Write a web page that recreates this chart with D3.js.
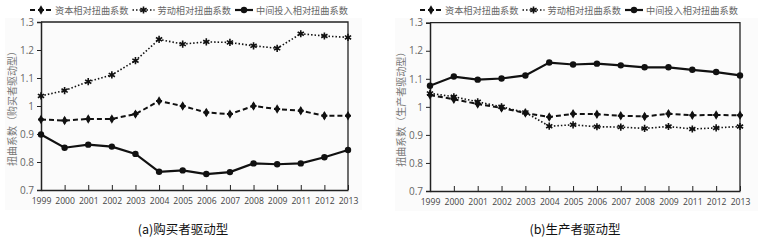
<!DOCTYPE html>
<html>
<head>
<meta charset="utf-8">
<script src="https://cdn.jsdelivr.net/npm/d3@7"></script>
<style>
  body { margin: 0; background: #fff; }
  svg text { font-family: "Noto Sans CJK SC", "DejaVu Sans", sans-serif; }
</style>
</head>
<body>
<script>
// categories (note: no 2010 in the source)
var years = ["1999","2000","2001","2002","2003","2004","2005","2006","2007","2008","2009","2011","2012","2013"];
var yTicks = [0.7, 0.8, 0.9, 1.0, 1.1, 1.2, 1.3];
var seriesNames = ["资本相对扭曲系数", "劳动相对扭曲系数", "中间投入相对扭曲系数"];

// (a) buyer driven
var capitalA = [0.952,0.948,0.954,0.954,0.971,1.018,1.000,0.977,0.971,1.000,0.989,0.983,0.965,0.965];
var labourA  = [1.036,1.055,1.087,1.111,1.162,1.238,1.221,1.229,1.227,1.215,1.206,1.258,1.250,1.245];
var interA   = [0.898,0.851,0.862,0.855,0.829,0.765,0.770,0.757,0.764,0.795,0.792,0.795,0.817,0.843];

// (b) producer driven
var capitalB = [1.042,1.027,1.010,0.996,0.978,0.964,0.975,0.974,0.968,0.966,0.975,0.970,0.971,0.970];
var labourB  = [1.048,1.036,1.018,1.000,0.980,0.931,0.936,0.929,0.928,0.923,0.930,0.921,0.925,0.930];
var interB   = [1.075,1.108,1.097,1.101,1.112,1.158,1.151,1.154,1.148,1.141,1.141,1.132,1.124,1.112];

var W = 761, H = 243;
var svg = d3.select("body").append("svg").attr("width", W).attr("height", H);

// line styles per series
var styles = [
  {dash: "5,3", width: 2, marker: "diamond", legW: 22},
  {dash: "1.5,2", width: 1.6, marker: "star", legW: 22},
  {dash: null, width: 2.2, marker: "circle", legW: 18}
];

function drawMarker(g, type, x, y) {
  if (type === "circle") {
    g.append("circle").attr("cx", x).attr("cy", y).attr("r", 3.2).attr("fill", "#111");
  } else if (type === "diamond") {
    g.append("path").attr("d", d3.symbol().type(d3.symbolDiamond).size(26)())
      .attr("transform", "translate(" + x + "," + y + ")").attr("fill", "#111");
    g.append("path").attr("d", d3.symbol().type(d3.symbolCross).size(20)())
      .attr("transform", "translate(" + x + "," + y + ")").attr("fill", "#111");
  } else {
    g.append("path").attr("d", d3.symbol().type(d3.symbolAsterisk).size(36)())
      .attr("transform", "translate(" + x + "," + y + ")")
      .attr("fill", "none").attr("stroke", "#111").attr("stroke-width", 1.6);
    g.append("path").attr("d", d3.symbol().type(d3.symbolSquare).size(6)())
      .attr("transform", "translate(" + x + "," + y + ")").attr("fill", "#111");
  }
}

function panel(opts) {
  var g = svg.append("g");

  // faint background like the scanned figure
  g.append("rect").attr("x", opts.bg[0]).attr("y", opts.bg[1])
    .attr("width", opts.bg[2]).attr("height", opts.bg[3]).attr("fill", "#fbfbfb");

  var x = d3.scalePoint().domain(years).range([opts.x0, opts.x1]);
  var y = d3.scaleLinear().domain([0.7, 1.3]).range([opts.y0, opts.y1]);

  // frame (top + right)
  g.append("path")
    .attr("d", "M" + opts.x0 + "," + opts.y1 + "H" + opts.x1 + "V" + opts.y0)
    .attr("fill", "none").attr("stroke", "#222").attr("stroke-width", 1.3);

  // y axis
  var yAxis = d3.axisLeft(y).tickValues(yTicks).tickSize(4).tickPadding(3)
    .tickFormat(function(d){ return d === 1 ? "1" : d.toFixed(1); });
  var ya = g.append("g").attr("transform", "translate(" + opts.x0 + ",0)").call(yAxis);
  ya.select(".domain").attr("stroke", "#222").attr("stroke-width", 1.5);
  ya.selectAll(".tick line").attr("stroke", "#222");
  ya.selectAll("text").attr("font-size", "10px").attr("fill", "#666")
    .style("font-family", "'Open Sans', 'DejaVu Sans', sans-serif");

  // x axis, ticks pointing up inside the plot
  var xAxis = d3.axisBottom(x).tickSizeInner(-5).tickSizeOuter(0).tickPadding(8);
  var xa = g.append("g").attr("transform", "translate(0," + opts.y0 + ")").call(xAxis);
  xa.select(".domain").attr("stroke", "#222").attr("stroke-width", 1.5);
  xa.selectAll(".tick line").attr("stroke", "#222");
  xa.selectAll("text").attr("font-size", "8.6px").attr("fill", "#444")
    .style("font-family", "'Open Sans', 'DejaVu Sans', sans-serif");

  // y axis title
  g.append("text")
    .attr("transform", "translate(" + opts.titleX + "," + ((opts.y0 + opts.y1) / 2) + ") rotate(-90)")
    .attr("text-anchor", "middle").attr("font-size", "10px").attr("fill", "#777")
    .text(opts.yTitle);

  // lines
  var line = d3.line().x(function(d, i){ return x(years[i]); }).y(function(d){ return y(d); });
  opts.data.forEach(function(vals, k) {
    var st = styles[k];
    g.append("path").datum(vals).attr("d", line)
      .attr("fill", "none").attr("stroke", "#111").attr("stroke-width", st.width)
      .attr("stroke-dasharray", st.dash);
  });
  opts.data.forEach(function(vals, k) {
    vals.forEach(function(v, i){ drawMarker(g, styles[k].marker, x(years[i]), y(v)); });
  });

  // legend, laid out from measured text widths
  var lx = opts.legendX;
  var ly = 10;
  seriesNames.forEach(function(name, k) {
    var st = styles[k];
    g.append("line").attr("x1", lx).attr("x2", lx + st.legW).attr("y1", ly).attr("y2", ly)
      .attr("stroke", "#111").attr("stroke-width", st.width).attr("stroke-dasharray", st.dash);
    drawMarker(g, st.marker, lx + st.legW / 2, ly);
    var t = g.append("text").attr("x", lx + st.legW + 3).attr("y", ly + 3.5)
      .attr("font-size", "9.2px").attr("fill", "#666").text(name);
    lx += st.legW + 3 + t.node().getComputedTextLength() + 4;
  });

  // caption
  g.append("text").attr("x", opts.capX).attr("y", 234).attr("text-anchor", "middle")
    .attr("font-size", "12.5px").attr("fill", "#111").text(opts.caption);
}

panel({
  x0: 41, x1: 348, y0: 190, y1: 22,
  bg: [5, 18, 357, 192],
  titleX: 16,
  yTitle: "扭曲系数（购买者驱动型）",
  data: [capitalA, labourA, interA],
  legendX: 30,
  capX: 183, caption: "(a)购买者驱动型"
});

panel({
  x0: 430, x1: 740, y0: 191, y1: 22.7,
  bg: [395, 18, 363, 193],
  titleX: 405,
  yTitle: "扭曲系数（生产者驱动型）",
  data: [capitalB, labourB, interB],
  legendX: 420,
  capX: 575, caption: "(b)生产者驱动型"
});
</script>
</body>
</html>
